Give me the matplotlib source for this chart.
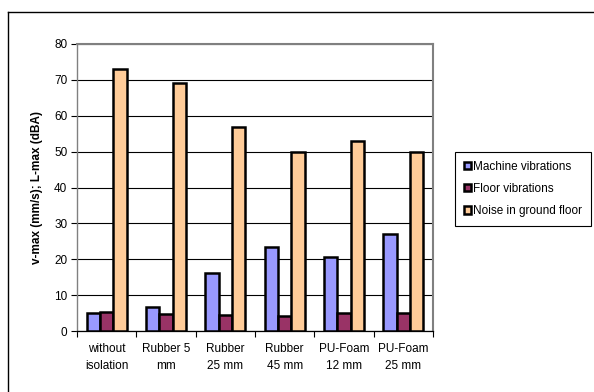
import matplotlib
matplotlib.use("Agg")
import matplotlib.pyplot as plt
from matplotlib.lines import Line2D
from matplotlib.patches import Patch
import numpy as np

plt.rcParams['font.family'] = ['Liberation Sans', 'DejaVu Sans']
plt.rcParams['font.size'] = 8.5

categories = ["without\nisolation", "Rubber 5\nmm", "Rubber\n25 mm",
              "Rubber\n45 mm", "PU-Foam\n12 mm", "PU-Foam\n25 mm"]
machine = [5.0, 6.8, 16.2, 23.5, 20.7, 27.0]
floor = [5.4, 4.7, 4.4, 4.1, 5.1, 4.9]
noise = [73.0, 69.0, 57.0, 50.0, 53.0, 50.0]

series_names = ["Machine vibrations", "Floor vibrations", "Noise in ground floor"]
colors = ["#9999FF", "#993366", "#FFCC99"]

fig = plt.figure(figsize=(5.94, 3.92), dpi=100)
ax = fig.add_axes([77 / 594, 1 - 331 / 392, 356 / 594, 287 / 392])

x = np.arange(len(categories))
w = 0.225
for i, (vals, c) in enumerate(zip([machine, floor, noise], colors)):
    ax.bar(x + (i - 1) * w, vals, w, color=c, edgecolor="black",
           linewidth=1.8, zorder=3, label=series_names[i])

ax.set_xlim(-0.5, len(categories) - 0.5)
ax.set_ylim(0, 80)
ax.set_yticks(range(0, 81, 10))
ax.yaxis.grid(True, color="black", linewidth=0.8, zorder=0)
ax.set_axisbelow(True)

# category labels between boundary ticks
ax.set_xticks(x)
ax.set_xticklabels(categories, linespacing=1.45)
ax.tick_params(axis="x", length=0, pad=9)
ax.set_xticks(np.arange(-0.5, len(categories)), minor=True)
ax.tick_params(axis="x", which="minor", length=4, width=0.8, color="black")
ax.tick_params(axis="y", length=4, width=0.8, color="black", pad=3)

for side in ["top", "right"]:
    ax.spines[side].set_color("#808080")
    ax.spines[side].set_linewidth(1.5)
ax.spines["left"].set_color("#808080")
ax.spines["left"].set_linewidth(1.0)
ax.spines["bottom"].set_color("black")
ax.spines["bottom"].set_linewidth(0.9)

ax.set_ylabel("v-max (mm/s); L-max (dBA)", fontweight="bold", labelpad=8)

handles = [Patch(facecolor=c, edgecolor="black", linewidth=1.8) for c in colors]
leg = fig.legend(handles, series_names, loc="upper left",
                 bbox_to_anchor=(455 / 594, 1 - 152 / 392),
                 frameon=True, fancybox=False, framealpha=1,
                 edgecolor="black", handlelength=0.6, handleheight=0.6,
                 handletextpad=0.2, labelspacing=0.85, borderpad=0.75,
                 borderaxespad=0)
leg.get_frame().set_linewidth(0.8)

# outer chart border
fig.add_artist(Line2D([8 / 594, 1.01], [1 - 12 / 392] * 2, color="black", linewidth=1.0))
fig.add_artist(Line2D([8 / 594] * 2, [-0.01, 1 - 12 / 392], color="black", linewidth=1.0))

fig.savefig("out.png", dpi=100)
